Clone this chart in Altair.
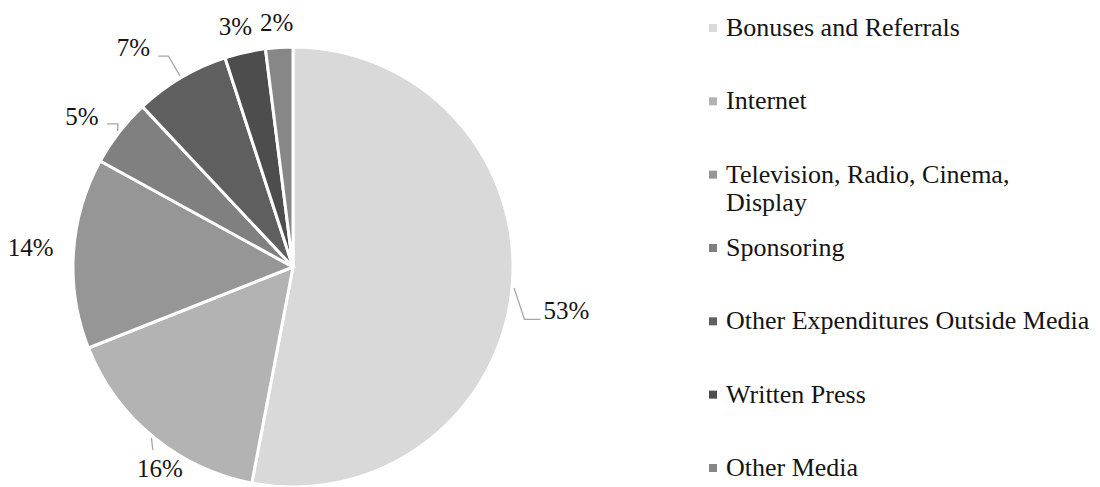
import altair as alt
import numpy as np
import pandas as pd

# ---------------- data ----------------
categories = [
    "Bonuses and Referrals",
    "Internet",
    "Television, Radio, Cinema, Display",
    "Sponsoring",
    "Other Expenditures Outside Media",
    "Written Press",
    "Other Media",
]
shares = [53, 16, 14, 5, 7, 3, 2]
label_texts = ["53%", "16%", "14%", "5%", "7%", "3%", "2%"]
legend_labels = [
    "Bonuses and Referrals",
    "Internet",
    "Television, Radio, Cinema,\nDisplay",
    "Sponsoring",
    "Other Expenditures Outside Media",
    "Written Press",
    "Other Media",
]
colors = ["#d9d9d9", "#b3b3b3", "#969696", "#808080", "#5f5f5f", "#4d4d4d", "#878787"]

# ---------------- layout (pixel units) ----------------
W, H = 1084, 479
CX, CY = 285, 259          # pie centre inside plot area
R = 220
FONT = "Liberation Serif"
FS_LABEL = 25
FS_LEGEND = 26
# label placement: (angle shift from slice middle in deg, radius)
label_place = [(3.8, 277), (-6.2, 242), (0.6, 263), (-2.4, 259), (-5.5, 271), (-0.9, 247), (-0.2, 245)]
# leader lines: offsets (screen, y down) of elbow and end relative to label centre
leader = {
    0: [(-42, 8), (-26, 8)],
    1: [(-7, -19)],
    3: [(36, 7), (25, 7)],
    4: [(35, 8), (25, 8)],
}

vals = np.array(shares, dtype=float)
cum = np.cumsum(vals)
mid = (cum - vals / 2) / vals.sum() * 360.0

base = pd.DataFrame({"category": categories, "share": shares, "idx": range(len(categories))})

lab_rows = []
for i, (t, (sh, r)) in enumerate(zip(label_texts, label_place)):
    a = np.radians(mid[i] + sh)
    lab_rows.append({"category": categories[i], "text": t, "x": r * np.sin(a), "y": r * np.cos(a)})
labels_df = pd.DataFrame(lab_rows)

line_rows = []
for i, pts in leader.items():
    a = np.radians(mid[i])
    sx, sy = (R + 2) * np.sin(a), (R + 2) * np.cos(a)
    lx, ly = labels_df.loc[i, "x"], labels_df.loc[i, "y"]
    line_rows.append({"category": categories[i], "pt": 0, "x": sx, "y": sy})
    for k, (ox, oy) in enumerate(pts):
        line_rows.append({"category": categories[i], "pt": k + 1, "x": lx + ox, "y": ly - oy})
lines_df = pd.DataFrame(line_rows)

legend_df = pd.DataFrame({"category": categories, "label": legend_labels})

xs = alt.Scale(domain=[-CX, W - CX], nice=False, zero=False)
ys = alt.Scale(domain=[-(H - CY), CY], nice=False, zero=False)
color_scale = alt.Scale(domain=categories, range=colors)

pie = alt.Chart(base).mark_arc(outerRadius=R, stroke="white", strokeWidth=3).encode(
    theta=alt.Theta("share:Q", stack=True),
    order=alt.Order("idx:Q", sort="ascending"),
    color=alt.Color("category:N", scale=color_scale, legend=None),
    x=alt.XDatum(0, type="quantitative", scale=xs, axis=None),
    y=alt.YDatum(0, type="quantitative", scale=ys, axis=None),
)

leaders = alt.Chart(lines_df).mark_line(color="#a6a6a6", strokeWidth=1.3).encode(
    x=alt.X("x:Q", scale=xs, axis=None),
    y=alt.Y("y:Q", scale=ys, axis=None),
    detail="category:N",
    order="pt:Q",
)

pct = alt.Chart(labels_df).mark_text(
    font=FONT, fontSize=FS_LABEL, color="#141414", align="center", baseline="middle"
).encode(
    x=alt.X("x:Q", scale=xs, axis=None),
    y=alt.Y("y:Q", scale=ys, axis=None),
    text="text:N",
)

leg_y = alt.Y("category:N", sort=categories, axis=None,
              scale=alt.Scale(domain=categories, range=[20, 460], padding=0))

leg_sym = alt.Chart(legend_df).mark_square(size=64, opacity=1).encode(
    x=alt.value(705),
    y=leg_y,
    color=alt.Color("category:N", scale=color_scale, legend=None),
)
leg_txt = alt.Chart(legend_df).mark_text(
    font=FONT, fontSize=FS_LEGEND, color="#141414", align="left", baseline="alphabetic",
    dy=8, lineBreak="\n", lineHeight=28,
).encode(
    x=alt.value(718),
    y=leg_y,
    text="label:N",
)

chart = (
    alt.layer(pie, leaders, pct, leg_sym, leg_txt)
    .resolve_scale(y="independent", x="independent")
    .properties(width=W, height=H, padding=0,
                autosize=alt.AutoSizeParams(type="none"),
                background="white")
    .configure_view(stroke=None)
)

chart.save("out.html", embed_options={"renderer": "svg", "actions": False})
